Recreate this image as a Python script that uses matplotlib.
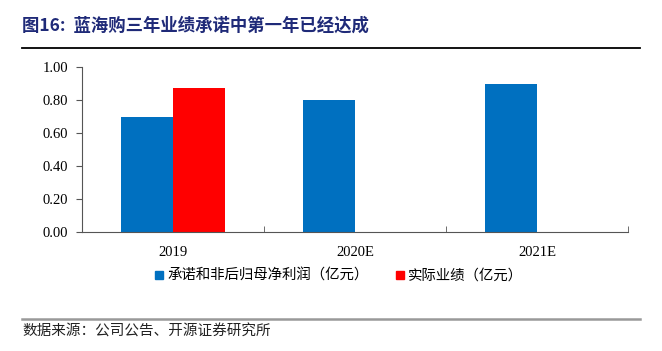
import numpy as np
import matplotlib.pyplot as plt
from matplotlib.patches import Patch
from matplotlib.lines import Line2D

plt.rcParams['font.family'] = ['Liberation Serif', 'Noto Sans CJK SC', 'DejaVu Sans']

categories = ['2019', '2020E', '2021E']
promised = [0.70, 0.80, 0.90]
actual = [0.87, np.nan, np.nan]
series_names = ['承诺和非后归母净利润（亿元）', '实际业绩（亿元）']
yticks = [0.0, 0.2, 0.4, 0.6, 0.8, 1.0]

blue = '#0070C0'
red = '#FF0000'
cjk = ['Noto Sans CJK SC', 'DejaVu Sans']

fig = plt.figure(figsize=(6.62, 3.51), dpi=100)
ax = fig.add_axes([82/662, 1-232/351, 546/662, 165/351])

x = np.arange(len(categories))
w = 0.286
ax.bar(x - w/2, promised, w, color=blue)
ax.bar(x + w/2, actual, w, color=red)

ax.set_xlim(-0.5, 2.5)
ax.set_ylim(0, 1.0)
ax.set_yticks(yticks)
ax.set_yticklabels([f'{v:.2f}' for v in yticks], fontsize=10.5)
ax.set_xticks(x)
ax.set_xticklabels(categories, fontsize=10.5)
ax.set_xticks([0.5, 1.5, 2.5], minor=True)
ax.tick_params(axis='x', which='major', length=0, pad=10)
ax.tick_params(axis='x', which='minor', direction='in', length=4, color='#555555')
ax.tick_params(axis='y', length=4, color='#555555', pad=6)
for s in ['top', 'right']:
    ax.spines[s].set_visible(False)
for s in ['left', 'bottom']:
    ax.spines[s].set_color('#555555')
    ax.spines[s].set_linewidth(0.8)

handles = [Patch(color=blue), Patch(color=red)]
fig.legend(handles, series_names, loc='center', bbox_to_anchor=(339/662, 1-276/351),
           ncol=2, frameon=False, prop={'family': cjk, 'size': 10.4},
           handlelength=0.55, handleheight=0.55, handletextpad=0.3, columnspacing=1.9)

fig.text(22/662, 1-26/351, '图16:  蓝海购三年业绩承诺中第一年已经达成', family=cjk,
         fontsize=12.5, fontweight='bold', color='#1f2a78', va='center', ha='left')
fig.add_artist(Line2D([22/662, 640/662], [1-47.5/351]*2, color='black', lw=1.3))
fig.add_artist(Line2D([22/662, 640/662], [1-319/351]*2, color='#999999', lw=1.8))
fig.text(22/662, 1-332/351, '数据来源：公司公告、开源证券研究所', family=cjk,
         fontsize=10.5, color='#222222', va='center', ha='left')

fig.savefig('out.png', dpi=100)
